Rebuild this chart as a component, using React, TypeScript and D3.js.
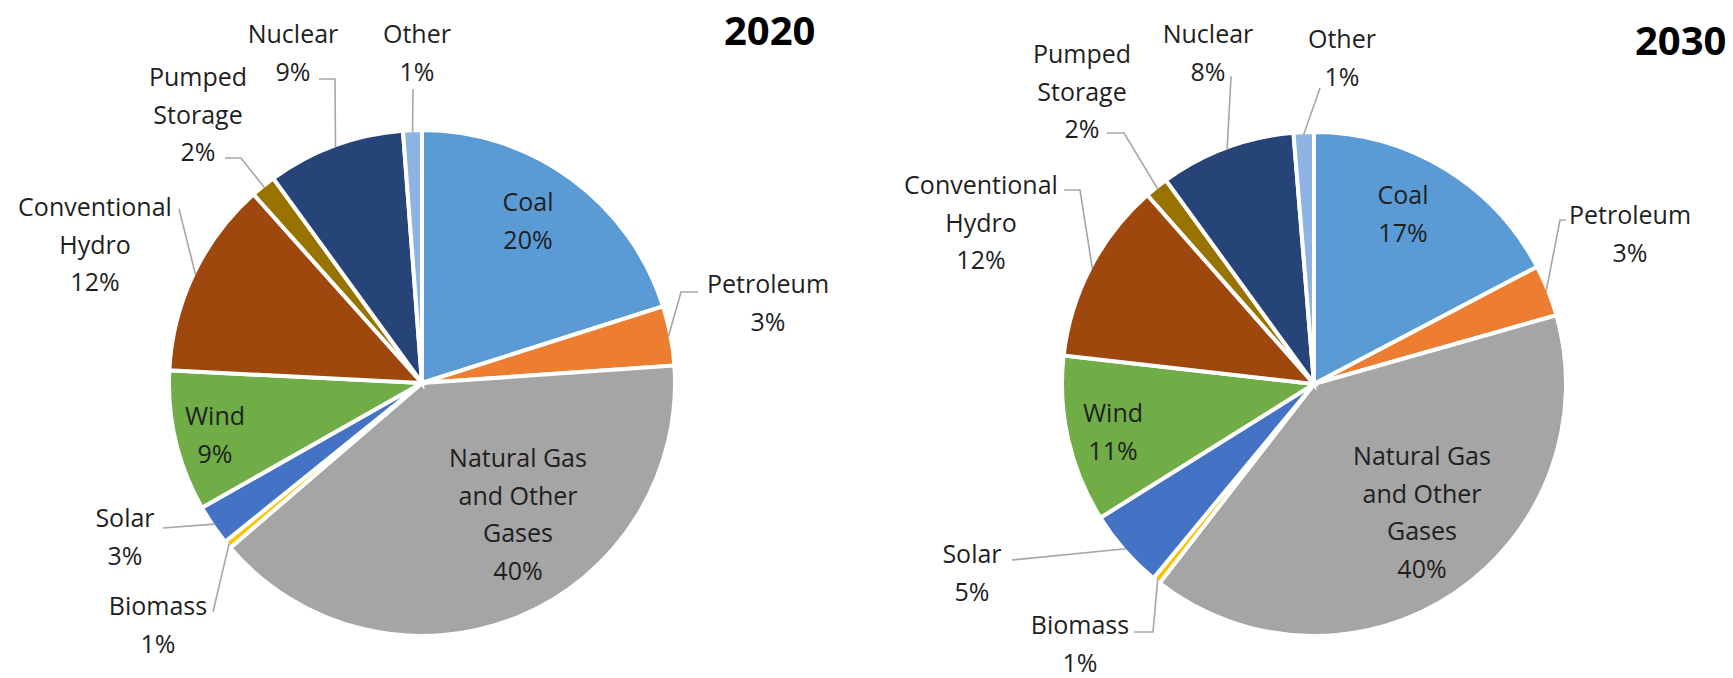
import React from 'react';
import * as d3 from 'd3';

// ---------- data ----------
const categories = [
  'Coal',
  'Petroleum',
  'Natural Gas and Other Gases',
  'Biomass',
  'Solar',
  'Wind',
  'Conventional Hydro',
  'Pumped Storage',
  'Nuclear',
  'Other',
];
// label lines for each category (same order)
const categoryLines = [
  ['Coal'],
  ['Petroleum'],
  ['Natural Gas', 'and Other', 'Gases'],
  ['Biomass'],
  ['Solar'],
  ['Wind'],
  ['Conventional', 'Hydro'],
  ['Pumped', 'Storage'],
  ['Nuclear'],
  ['Other'],
];
const years = ['2020', '2030'];
const shares2020 = [20.1, 3.8, 39.8, 0.5, 2.6, 9.0, 12.6, 1.6, 8.8, 1.2];
const shares2030 = [17.3, 3.3, 39.9, 0.5, 5.1, 10.7, 11.7, 1.5, 8.7, 1.3];
const pctLabels2020 = ['20%', '3%', '40%', '1%', '3%', '9%', '12%', '2%', '9%', '1%'];
const pctLabels2030 = ['17%', '3%', '40%', '1%', '5%', '11%', '12%', '2%', '8%', '1%'];

// ---------- styles ----------
const colors = [
  '#5B9BD5', // Coal
  '#ED7D31', // Petroleum
  '#A5A5A5', // Natural gas
  '#FFC000', // Biomass
  '#4472C4', // Solar
  '#70AD47', // Wind
  '#9E480E', // Hydro
  '#997300', // Pumped storage
  '#264478', // Nuclear
  '#8DB4E2', // Other
];
const FONT = "'Open Sans', 'Noto Sans', sans-serif";
const TEXT = '#1f1f1f';
const LEADER = '#A6A6A6';
const FS = 25;
const LH = 37.5;

type LabelLayout = { x: number; y: number; inside?: boolean; leader?: [number, number][] };
type ChartLayout = {
  cx: number; cy: number; r: number;
  titleX: number; titleY: number;
  labels: LabelLayout[];
};

const layouts: ChartLayout[] = [
  {
    cx: 422, cy: 383, r: 253, titleX: 724, titleY: 45,
    labels: [
      { x: 528, y: 211, inside: true },
      { x: 768, y: 293, leader: [[698, 292], [681, 292]] },
      { x: 518, y: 467, inside: true },
      { x: 158, y: 615, leader: [[213, 612]] },
      { x: 125, y: 527, leader: [[163, 528]] },
      { x: 215, y: 425, inside: true },
      { x: 95, y: 216, leader: [[179, 209]] },
      { x: 198, y: 86, leader: [[225, 158], [241, 158]] },
      { x: 293, y: 43, leader: [[319, 79], [335, 79]] },
      { x: 417, y: 43, leader: [[413, 89]] },
    ],
  },
  {
    cx: 1314, cy: 384, r: 252, titleX: 1635, titleY: 55,
    labels: [
      { x: 1403, y: 204, inside: true },
      { x: 1630, y: 224, leader: [[1566, 220], [1560, 220]] },
      { x: 1422, y: 465, inside: true },
      { x: 1080, y: 634, leader: [[1134, 632], [1153, 632]] },
      { x: 972, y: 563, leader: [[1012, 560]] },
      { x: 1113, y: 422, inside: true },
      { x: 981, y: 194, leader: [[1064, 190], [1080, 190]] },
      { x: 1082, y: 63, leader: [[1107, 133], [1124, 133]] },
      { x: 1208, y: 43, leader: [[1230, 77], [1231, 77]] },
      { x: 1342, y: 48, leader: [[1320, 88]] },
    ],
  },
];

const seriesByYear = [shares2020, shares2030];
const pctByYear = [pctLabels2020, pctLabels2030];

function PieChart({ idx }: { idx: number }) {
  const L = layouts[idx];
  const values = seriesByYear[idx];
  const pcts = pctByYear[idx];
  const pie = d3.pie<number>().sort(null).value((d) => d);
  const arcs = pie(values);
  const arc = d3.arc<d3.PieArcDatum<number>>().innerRadius(0).outerRadius(L.r);
  const edge = d3.arc<d3.PieArcDatum<number>>().innerRadius(L.r - 2).outerRadius(L.r - 2);

  return (
    <g>
      <g transform={`translate(${L.cx},${L.cy})`}>
        {arcs.map((a, i) => (
          <path
            key={categories[i]}
            d={arc(a) || ''}
            fill={colors[i]}
            stroke="#fff"
            strokeWidth={4}
            strokeLinejoin="miter"
          />
        ))}
      </g>
      {arcs.map((a, i) => {
        const lab = L.labels[i];
        if (!lab.leader) return null;
        const [ex, ey] = edge.centroid(a);
        const pts = [...lab.leader, [L.cx + ex, L.cy + ey]];
        const line = d3.line()(pts as [number, number][]);
        return <path key={'l' + i} d={line || ''} fill="none" stroke={LEADER} strokeWidth={1.6} />;
      })}
      {arcs.map((a, i) => {
        const lab = L.labels[i];
        const lines = [...categoryLines[i], pcts[i]];
        return (
          <text
            key={'t' + i}
            x={lab.x}
            y={lab.y}
            textAnchor="middle"
            fontFamily={FONT}
            fontSize={FS}
            fill={TEXT}
          >
            {lines.map((t, j) => (
              <tspan key={j} x={lab.x} y={lab.y + j * LH}>
                {t}
              </tspan>
            ))}
          </text>
        );
      })}
      <text
        x={L.titleX}
        y={L.titleY}
        fontFamily={FONT}
        fontSize={40}
        fontWeight={700}
        fill="#000"
      >
        {years[idx]}
      </text>
    </g>
  );
}

export default function App() {
  return (
    <svg
      width={1733}
      height={678}
      style={{ position: 'absolute', left: 0, top: 0, background: '#fff' }}
    >
      <rect x={0} y={0} width={1733} height={678} fill="#fff" />
      <PieChart idx={0} />
      <PieChart idx={1} />
    </svg>
  );
}
